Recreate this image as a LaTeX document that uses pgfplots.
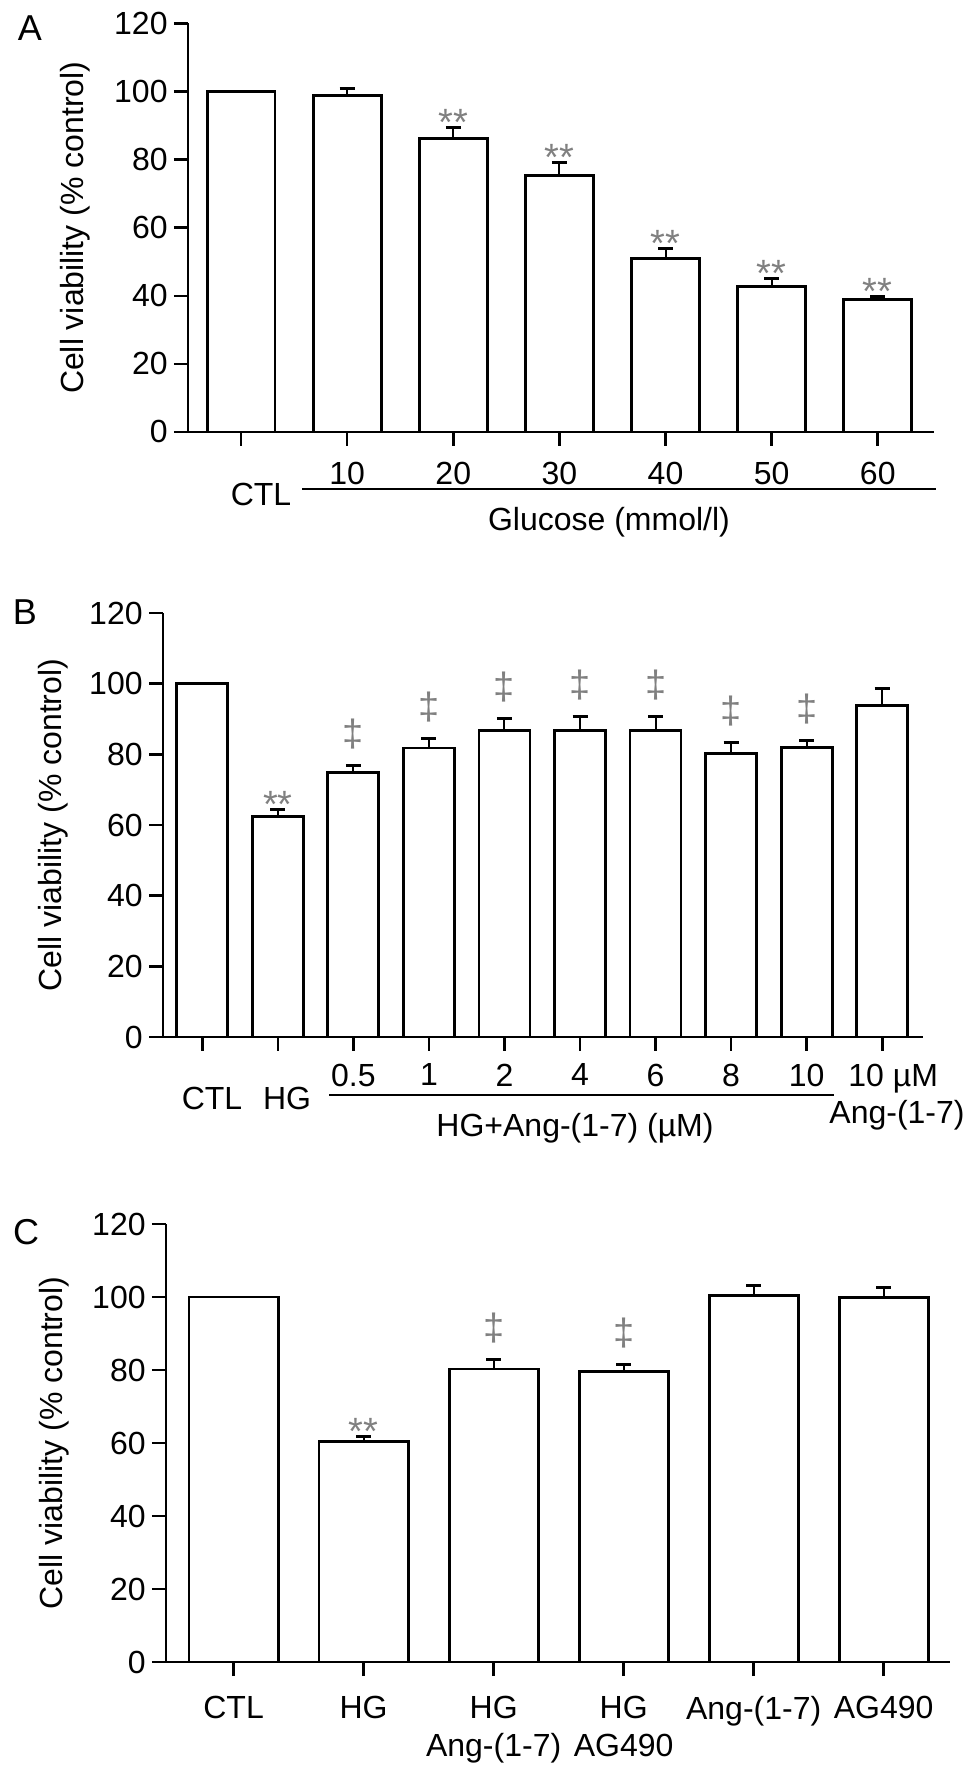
\documentclass[border=0pt]{standalone}
\usepackage{fontspec}
\setmainfont{Liberation Sans}
\usepackage{pgfplots}
\usepackage{pgfplotstable}
\pgfplotsset{compat=1.18}

\definecolor{sig}{gray}{0.5}
\newcommand\fs{\fontsize{16}{19}\selectfont}

% panel A: glucose dose (CTL = 100 is drawn separately, it has no error bar)
\pgfplotstableread{
x y e
1 98.8 2.1
2 86.3 3.2
3 75.3 4.0
4 50.9 3.1
5 42.7 2.5
6 39.0 0.9
}\tabA
% panel B: HG + Ang-(1-7)
\pgfplotstableread{
x y e
1 62.3 2.1
2 74.8 2.1
3 81.8 2.6
4 86.8 3.3
5 86.8 4.0
6 86.8 4.0
7 80.2 3.2
8 81.9 2.1
9 93.9 4.6
}\tabB
% panel C: AG490
\pgfplotstableread{
x y e
1 60.5 1.3
2 80.3 2.5
3 79.6 2.0
4 100.5 2.7
5 99.9 2.7
}\tabC

\pgfplotsset{
  viab/.style={
    scale only axis, anchor=south west, clip=false,
    axis x line=bottom, axis y line=left,
    axis line style={-, line width=1.4pt},
    ymin=0, ymax=120, ytick={0,20,...,120},
    tick align=outside, major tick length=7pt,
    every tick/.style={black, line width=1.3pt},
    tick label style={font=\fs},
    label style={font=\fs},
    /pgf/number format/assume math mode=true,
    yticklabel style={anchor=east, inner sep=0pt, xshift=-3pt},
    xticklabel style={anchor=north, inner sep=0pt, align=center},
    ylabel={Cell viability (\% control)},
    ylabel style={anchor=center},
  },
  ctl/.style={ybar, bar shift=0pt, fill=white, draw=black, line width=1.4pt},
  bars/.style={ybar, bar shift=0pt, fill=white, draw=black, line width=1.4pt,
    error bars/.cd, y dir=plus, y explicit,
    error bar style={line width=1pt, black},
    error mark options={rotate=90, mark size=3.75pt, line width=1.5pt, black}},
  stars/.style={draw=none, mark=none, nodes near coords={**},
    every node near coord/.style={font=\fontsize{19}{19}\selectfont, text=sig,
      anchor=base, inner sep=0pt, yshift=-4.2pt}},
  dags/.style={draw=none, mark=none, nodes near coords={\textdaggerdbl},
    every node near coord/.style={font=\fontsize{19}{19}\selectfont, text=sig,
      anchor=base, inner sep=0pt, yshift=9.5pt}},
}

\begin{document}
\begin{tikzpicture}
\useasboundingbox (0,0) rectangle (484.5pt,883pt);

% ---- A ----
\begin{axis}[viab, at={(94pt,667pt)}, width=373pt, height=204.25pt,
    xmin=-0.5, xmax=6.53, bar width=0.64,
    xtick={0,...,6}, xticklabels={,10,20,30,40,50,60},
    xticklabel style={yshift=-7.75pt},
    ylabel style={at={(rel axis cs:-0.1515,0.5)}}]
\addplot[ctl] coordinates {(0,100)};
\addplot[bars] table[x=x, y=y, y error=e] {\tabA};
\addplot[stars] coordinates {(2,89.5) (3,79.3) (4,54.0) (5,45.2) (6,39.9)};
\draw[line width=1.4pt] (rel axis cs:0,0) -- ++(-5.5pt,0);
\end{axis}
\node[font=\fontsize{18}{18}\selectfont] at (15pt,869pt) {A};
\node[font=\fs] at (130.5pt,635.5pt) {CTL};
\draw[line width=1.4pt] (151pt,638.5pt) -- (468pt,638.5pt);
\node[font=\fs] at (304.5pt,622pt) {Glucose (mmol/l)};

% ---- B ----
\begin{axis}[viab, at={(81.5pt,364.5pt)}, width=380pt, height=212pt,
    xmin=-0.52, xmax=9.54, bar width=0.675,
    xtick={0,...,9}, xticklabels={,,0.5,1,2,4,6,8,10,\hspace*{11pt}10 µM},
    xticklabel style={yshift=-6.25pt},
    ylabel style={at={(rel axis cs:-0.1447,0.5)}}]
\addplot[ctl] coordinates {(0,100)};
\addplot[bars] table[x=x, y=y, y error=e] {\tabB};
\addplot[stars] coordinates {(1,64.4)};
\addplot[dags] coordinates {(2,76.9) (3,84.4) (4,90.1) (5,90.8) (6,90.8) (7,83.4) (8,84.0)};
\draw[line width=1.4pt] (rel axis cs:0,0) -- ++(-7pt,0);
\end{axis}
\node[font=\fontsize{18}{18}\selectfont] at (12.5pt,577pt) {B};
\node[font=\fs] at (106pt,334pt) {CTL};
\node[font=\fs] at (143.5pt,334pt) {HG};
\draw[line width=1.4pt] (164.5pt,335.5pt) -- (417pt,335.5pt);
\node[font=\fs] at (287.5pt,319pt) {HG+Ang-(1-7) (µM)};
\node[font=\fs] at (448.5pt,325.5pt) {Ang-(1-7)};

% ---- C ----
\begin{axis}[viab, at={(83pt,52pt)}, width=392pt, height=219pt,
    xmin=-0.52, xmax=5.51, bar width=0.685,
    xtick={0,...,5},
    xticklabels={CTL,HG,{HG\\Ang-(1-7)},{HG\\AG490},Ang-(1-7),AG490},
    xticklabel style={yshift=-10pt},
    ylabel style={at={(rel axis cs:-0.1429,0.5)}}]
\addplot[ctl] coordinates {(0,100)};
\addplot[bars] table[x=x, y=y, y error=e] {\tabC};
\addplot[stars] coordinates {(1,61.8)};
\addplot[dags] coordinates {(2,82.8) (3,81.6)};
\draw[line width=1.4pt] (rel axis cs:0,0) -- ++(-6.5pt,0);
\end{axis}
\node[font=\fontsize{18}{18}\selectfont] at (13pt,267pt) {C};
\end{tikzpicture}
\end{document}
